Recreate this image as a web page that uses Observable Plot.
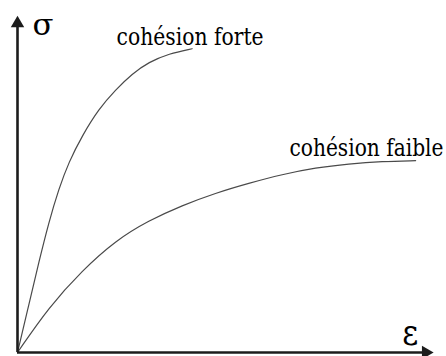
<!DOCTYPE html>
<html>
<head>
<meta charset="utf-8">
<script src="https://cdn.jsdelivr.net/npm/d3@7"></script>
<script src="https://cdn.jsdelivr.net/npm/@observablehq/plot@0.6"></script>
<style>
  html, body { margin: 0; padding: 0; background: #fff; }
</style>
</head>
<body>
<div id="chart"></div>
<script>
// strain (ε) and stress (σ) in arbitrary units (0–100)
const forteStrain = [0, 2.63, 4.97, 7.30, 9.63, 11.96, 15.08, 18.95, 22.84, 26.74, 30.6, 35.3, 40.7];
const forteStress = [0, 13.5, 25.65, 37.0, 46.5, 54.1, 61.6, 69.2, 74.6, 79.2, 82.5, 84.9, 86.3];

const faibleStrain = [0, 7.30, 15.08, 22.84, 30.6, 38.4, 46.15, 53.9, 61.7, 69.5, 77.2, 85.0, 92.8];
const faibleStress = [0, 12.9, 23.3, 31.8, 37.5, 41.8, 45.3, 48.1, 50.6, 52.5, 53.6, 54.3, 54.5];

const labels = ["cohésion forte", "cohésion faible"];
const labelStrain = [23.1, 63.4];
const labelStress = [87.5, 55.7];

const axisLabels = ["σ", "ε"];
const axisLabelStrain = [3.5, 89.7];
const axisLabelStress = [90.1, 2.0];
const xAxisEnd = 97.0;
const yAxisEnd = 95.7;

const forte = forteStrain.map((x, i) => ({x, y: forteStress[i]}));
const faible = faibleStrain.map((x, i) => ({x, y: faibleStress[i]}));
const labelData = labels.map((t, i) => ({t, x: labelStrain[i], y: labelStress[i]}));
const axisLabelData = axisLabels.map((t, i) => ({t, x: axisLabelStrain[i], y: axisLabelStress[i]}));

const axisColor = "#1c1c1c";
const curveColor = "#4a4a4a";
const serif = "DejaVu Serif";
// horizontal condensing to mimic a Times-like face (styling only)
const textWidths = {"cohésion forte": 147, "cohésion faible": 154, "σ": 21, "ε": 16};

const chart = Plot.plot({
  width: 446,
  height: 356,
  marginLeft: 17,
  marginRight: 0,
  marginTop: 0,
  marginBottom: 4,
  x: {domain: [0, 100], axis: null},
  y: {domain: [0, 100], axis: null},
  style: {background: "#fff"},
  marks: [
    Plot.line(forte, {x: "x", y: "y", curve: "basis", stroke: curveColor, strokeWidth: 1.2}),
    Plot.line(faible, {x: "x", y: "y", curve: "basis", stroke: curveColor, strokeWidth: 1.2}),
    Plot.ruleX([0], {y1: 0, y2: yAxisEnd - 2, stroke: axisColor, strokeWidth: 2.6}),
    Plot.ruleY([0], {x1: 0, x2: xAxisEnd - 2, stroke: axisColor, strokeWidth: 2.6}),
    Plot.dot([{x: 0, y: yAxisEnd}], {x: "x", y: "y", symbol: "triangle", r: 5, fill: axisColor, stroke: "none", dy: 7.8}),
    Plot.dot([{x: xAxisEnd, y: 0}], {x: "x", y: "y", symbol: "triangle", r: 5, fill: axisColor, stroke: "none", dx: -7.8, rotate: 90}),
    Plot.text(labelData, {x: "x", y: "y", text: "t", textAnchor: "start", lineAnchor: "bottom", fontFamily: serif, fontSize: 24, fill: "#000"}),
    Plot.text(axisLabelData.slice(0, 1), {x: "x", y: "y", text: "t", textAnchor: "start", lineAnchor: "bottom", fontFamily: serif, fontSize: 30, fill: "#000"}),
    Plot.text(axisLabelData.slice(1), {x: "x", y: "y", text: "t", textAnchor: "start", lineAnchor: "bottom", fontFamily: serif, fontSize: 37, fill: "#000"})
  ]
});
d3.select(chart).selectAll("text").each(function() {
  const w = textWidths[this.textContent];
  if (w) {
    this.setAttribute("textLength", w);
    this.setAttribute("lengthAdjust", "spacingAndGlyphs");
  }
});
document.getElementById("chart").appendChild(chart);
</script>
</body>
</html>
